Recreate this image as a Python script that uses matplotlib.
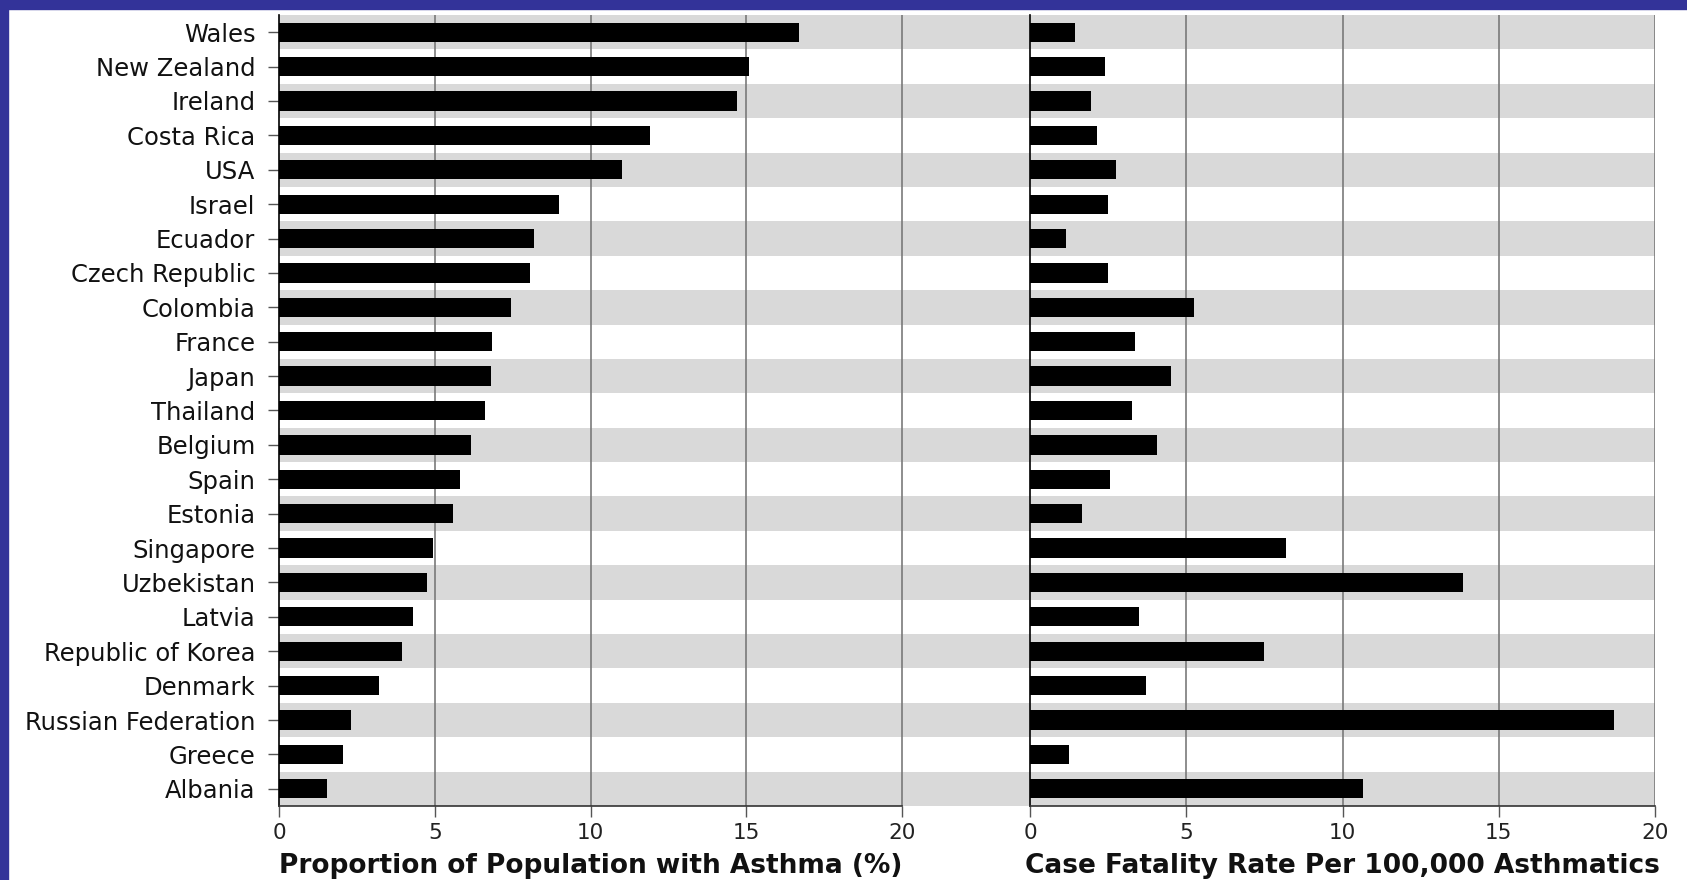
import matplotlib
matplotlib.use("Agg")
import matplotlib.pyplot as plt
from matplotlib.patches import Rectangle

plt.rcParams['font.family'] = ['DejaVu Sans']

# Data
countries = ["Wales", "New Zealand", "Ireland", "Costa Rica", "USA", "Israel",
             "Ecuador", "Czech Republic", "Colombia", "France", "Japan",
             "Thailand", "Belgium", "Spain", "Estonia", "Singapore",
             "Uzbekistan", "Latvia", "Republic of Korea", "Denmark",
             "Russian Federation", "Greece", "Albania"]
prevalence = [16.7, 15.1, 14.7, 11.9, 11.0, 9.0, 8.2, 8.05, 7.45, 6.85, 6.8,
              6.6, 6.15, 5.8, 5.6, 4.95, 4.75, 4.3, 3.95, 3.2, 2.3, 2.05, 1.55]
fatality = [1.45, 2.4, 1.95, 2.15, 2.75, 2.5, 1.15, 2.5, 5.25, 3.35, 4.5,
            3.25, 4.05, 2.55, 1.65, 8.2, 13.85, 3.5, 7.5, 3.7, 18.7, 1.25, 10.65]
ticks = [0, 5, 10, 15, 20]

# Style
bar_color = 'black'
stripe_color = '#d9d9d9'
grid_color = '#7a7a7a'
border_color = '#333399'

W, H = 1687, 880
fig = plt.figure(figsize=(W / 100, H / 100), dpi=100)

bottom, top = 806, 15
ax_h = (bottom - top) / H
ax_b = 1 - bottom / H
ax1 = fig.add_axes([279 / W, ax_b, 751 / W, ax_h])
ax2 = fig.add_axes([1030 / W, ax_b, 625 / W, ax_h])

ypos = list(range(len(countries)))

def setup(ax, values, xmax, label, show_labels):
    ax.set_ylim(len(countries) - 0.5, -0.5)
    ax.set_xlim(0, xmax)
    for i in ypos:
        if i % 2 == 0:
            ax.axhspan(i - 0.5, i + 0.5, color=stripe_color, lw=0, zorder=0)
    for t in ticks[1:]:
        ax.axvline(t, color=grid_color, lw=1.2, zorder=1)
    ax.barh(ypos, values, height=0.56, color=bar_color, zorder=2)
    for s in ['top', 'right']:
        ax.spines[s].set_visible(False)
    ax.spines['left'].set_color('black')
    ax.spines['left'].set_linewidth(1.2)
    ax.spines['bottom'].set_color('#333333')
    ax.spines['bottom'].set_linewidth(1.2)
    ax.spines['bottom'].set_bounds(0, 20)
    ax.set_xticks(ticks)
    ax.set_xticklabels([str(t) for t in ticks])
    ax.tick_params(axis='x', length=8, width=1, color='#555555',
                   labelsize=15.5, labelcolor='#222222', pad=4)
    ax.set_yticks(ypos)
    if show_labels:
        ax.set_yticklabels(countries)
        ax.tick_params(axis='y', length=8, width=1, color='#555555',
                       labelsize=17.5, labelcolor='#111111', pad=9)
    else:
        ax.set_yticklabels([])
        ax.tick_params(axis='y', length=0)
    x0 = ax.transData.transform((0, 0))[0]
    x20 = ax.transData.transform((20, 0))[0]
    fig.text((x0 + x20) / 2 / W, 1 - 866 / H, label, ha='center', va='center',
             fontsize=19, fontweight='bold', color='#111111')

setup(ax1, prevalence, 751 / 31.15, "Proportion of Population with Asthma (%)", True)
setup(ax2, fatality, 20, "Case Fatality Rate Per 100,000 Asthmatics", False)

# Blue frame on left and top
fig.patches.append(Rectangle((0, 0), 8 / W, 1, transform=fig.transFigure,
                             color=border_color, zorder=10))
fig.patches.append(Rectangle((0, 1 - 9 / H), 1, 9 / H, transform=fig.transFigure,
                             color=border_color, zorder=10))

fig.savefig("out.png", dpi=100)
